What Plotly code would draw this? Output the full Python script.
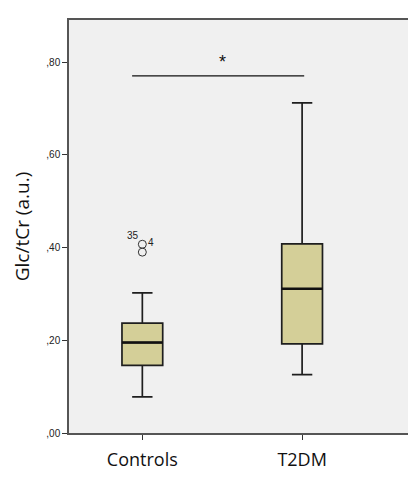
import plotly.graph_objects as go

categories = ["Controls", "T2DM"]
q1 = [0.146, 0.192]
median = [0.195, 0.311]
q3 = [0.237, 0.408]
lower_whisker = [0.078, 0.126]
upper_whisker = [0.302, 0.712]

outlier_values = [0.407, 0.390]
outlier_labels = ["35", "4"]
outlier_group = [0, 0]

y_ticks = [0.0, 0.2, 0.4, 0.6, 0.8]
y_tick_labels = [",00", ",20", ",40", ",60", ",80"]

sig_from, sig_to, sig_level, sig_text = 0, 1, 0.770, "*"

x_pos = list(range(len(categories)))
box_w = 0.255

fig = go.Figure()
fig.add_trace(go.Box(
    x=x_pos, q1=q1, median=median, q3=q3,
    lowerfence=lower_whisker, upperfence=upper_whisker,
    width=box_w, whiskerwidth=0.5,
    fillcolor="#d4cf98", line=dict(color="#1e1e1e", width=1.7),
    boxpoints=False, showlegend=False, hoverinfo="skip",
))
# thicker median lines
for i, m in enumerate(median):
    fig.add_trace(go.Scatter(
        x=[x_pos[i] - box_w / 2, x_pos[i] + box_w / 2], y=[m, m],
        mode="lines", line=dict(color="#111", width=2.5),
        showlegend=False, hoverinfo="skip",
    ))
# outliers
fig.add_trace(go.Scatter(
    x=outlier_group, y=outlier_values, mode="markers",
    marker=dict(symbol="circle-open", size=8, color="#333", line=dict(width=1)),
    showlegend=False, hoverinfo="skip",
))
fig.add_annotation(x=outlier_group[0], y=outlier_values[0], text=outlier_labels[0],
                   showarrow=False, xanchor="right", yanchor="bottom", xshift=-1, yshift=1,
                   font=dict(family="Arial, Liberation Sans", size=10, color="#222"))
fig.add_annotation(x=outlier_group[1], y=outlier_values[0], text=outlier_labels[1],
                   showarrow=False, xanchor="left", yanchor="middle", xshift=4, yshift=2,
                   font=dict(family="Arial, Liberation Sans", size=10, color="#222"))
# significance bar
fig.add_trace(go.Scatter(
    x=[sig_from - 0.064, sig_to + 0.013], y=[sig_level, sig_level], mode="lines",
    line=dict(color="#111", width=1.3), showlegend=False, hoverinfo="skip",
))
fig.add_annotation(x=(sig_from + sig_to) / 2 + 0.0, y=sig_level, text=sig_text, showarrow=False,
                   yanchor="bottom", yshift=2,
                   font=dict(family="Arial, Liberation Sans", size=18, color="#111"))

fig.update_layout(
    width=408, height=470,
    margin=dict(l=61, r=5, t=12, b=45),
    paper_bgcolor="white", plot_bgcolor="#f0f0f0",
    xaxis=dict(
        range=[-0.459, 1.669], tickvals=x_pos, ticktext=categories,
        ticks="outside", ticklen=5, tickcolor="#333",
        ticklabelstandoff=5,
        showgrid=False, zeroline=False,
        showline=True, linecolor="#555", linewidth=1.5, mirror=True,
        tickfont=dict(family="Open Sans", size=18, color="#111"),
    ),
    yaxis=dict(
        range=[0, 0.8906], tickvals=y_ticks, ticktext=y_tick_labels,
        ticks="outside", ticklen=5, tickcolor="#333",
        showgrid=False, zeroline=False,
        showline=True, linecolor="#555", linewidth=1.5, mirror=True,
        tickfont=dict(family="Arial, Liberation Sans", size=10, color="#222"),
        title=dict(text="Glc/tCr (a.u.)", standoff=12,
                   font=dict(family="Open Sans", size=19, color="#111")),
    ),
)

fig.write_html("out.html")
